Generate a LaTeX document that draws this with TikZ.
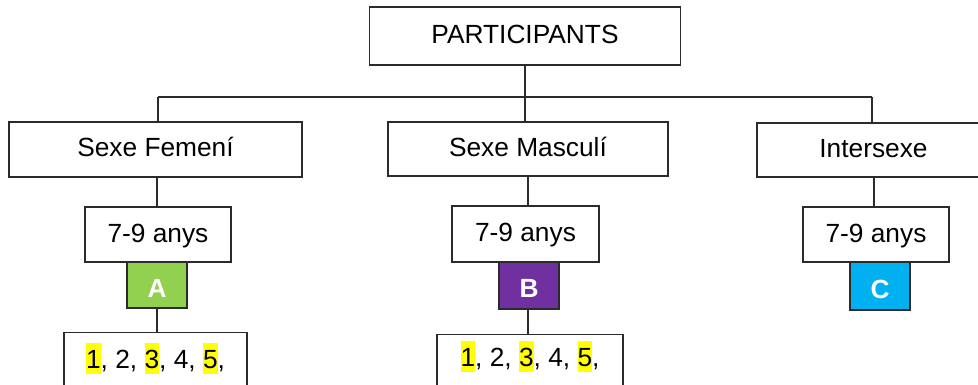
\documentclass[tikz,border=0pt]{standalone}
\usepackage{fontspec}
\setmainfont{Liberation Sans}
\definecolor{grpgreen}{HTML}{92D050}
\definecolor{grppurple}{HTML}{7030A0}
\definecolor{grpblue}{HTML}{00B0F0}
\definecolor{hlyellow}{HTML}{FFFF00}
\definecolor{linegray}{HTML}{2B2B2B}
% highlighted digit
\newcommand{\hlnum}[1]{{\setlength{\fboxsep}{0pt}\colorbox{hlyellow}{\rule[-5pt]{0pt}{31pt}#1}}}
\tikzset{
  box/.style={draw=linegray, line width=1.1pt, fill=white, rectangle, inner sep=0pt,
              text height=17pt, text depth=2pt},
  tagbox/.style={draw=linegray, line width=1.1pt, rectangle, inner sep=0pt,
              minimum width=60pt, text=white, font=\fontsize{26.3}{31}\selectfont\bfseries,
              text height=24pt, text depth=0pt},
  listbox/.style={draw=linegray, line width=1.1pt, fill=white, rectangle, inner sep=0pt,
              anchor=north, text depth=40pt},
  link/.style={draw=linegray, line width=1.1pt}
}
\begin{document}
\begin{tikzpicture}[x=1pt, y=-1pt, font=\fontsize{26.3}{31}\selectfont]
\useasboundingbox (0,0) rectangle (978,385);

% top level
\node[box, minimum width=311pt, minimum height=58pt] (part) at (525,36) {PARTICIPANTS};

% second level
\node[box, minimum width=293pt, minimum height=55pt] (fem) at (155.5,149.5) {Sexe Femení};
\node[box, minimum width=280pt, minimum height=54pt] (mas) at (528,149) {Sexe Masculí};
\node[box, minimum width=233pt, minimum height=54pt] (int) at (873.5,150) {Intersexe};

% age groups
\node[box, minimum width=146pt, minimum height=55pt] (fage) at (158,234.5) {7-9 anys};
\node[box, minimum width=147pt, minimum height=56pt] (mage) at (525.5,234) {7-9 anys};
\node[box, minimum width=146pt, minimum height=55pt] (iage) at (876,234.5) {7-9 anys};

% group tags
\node[tagbox, fill=grpgreen, minimum height=46pt] (ta) at (157,285) {A};
\node[tagbox, fill=grppurple, minimum height=47pt] (tb) at (529,285.5) {B};
\node[tagbox, fill=grpblue, minimum height=48pt] (tc) at (880,286) {C};

% lists
\node[listbox, minimum width=183pt, text height=36pt] (flist) at (155.5,332)
  {\hlnum{1}, 2, \hlnum{3}, 4, \hlnum{5},};
\node[listbox, minimum width=186pt, text height=32pt] (mlist) at (530,334)
  {\hlnum{1}, 2, \hlnum{3}, 4, \hlnum{5},};

% branching connectors
\coordinate (jl) at (158,97);
\coordinate (jr) at (872,97);
\draw[link] (jl) -- (jr);
\draw[link] (part.south) -- (part.south |- mas.north);
\draw[link] (jl) -- (jl |- fem.north);
\draw[link] (jr) -- (jr |- int.north);

% vertical connectors
\draw[link] (fage.north -| 157,0) -- (fem.south -| 157,0);
\draw[link] (ta.south) -- (ta.south |- flist.north);
\draw[link] (mage.north -| mas.south) -- (mas.south);
\draw[link] (tb.south -| 528,0) -- (mlist.north -| 528,0);
\draw[link] (iage.north -| 874,0) -- (int.south -| 874,0);
\end{tikzpicture}
\end{document}
